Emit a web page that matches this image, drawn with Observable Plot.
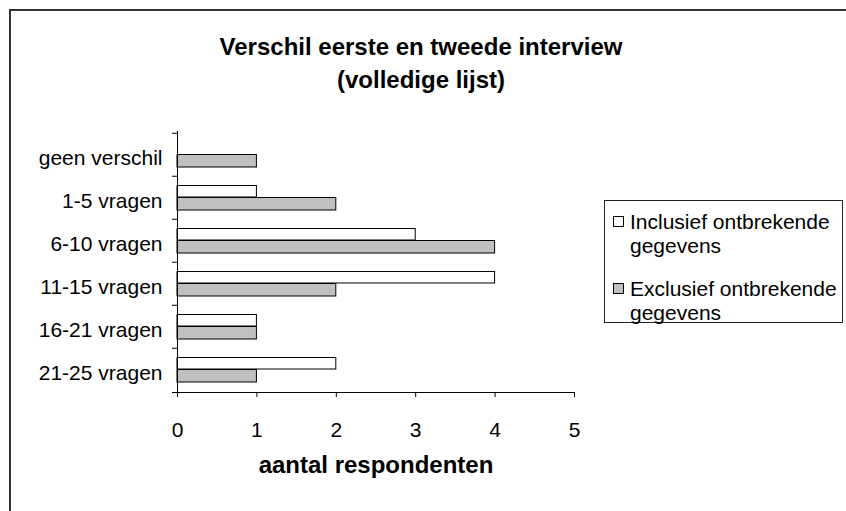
<!DOCTYPE html>
<html><head><meta charset="utf-8">
<script src="https://cdn.jsdelivr.net/npm/d3@7"></script>
<script src="https://cdn.jsdelivr.net/npm/@observablehq/plot@0.6"></script>
<style>
body{margin:0;background:#fff;overflow:hidden}
#wrap{position:relative;width:846px;height:511px;overflow:hidden;font-family:"Liberation Sans",Arial,sans-serif;background:#fff;color:#000}
#border{position:absolute;left:9px;top:9px;width:900px;height:600px;border:2px solid #333;box-sizing:border-box}
#wrap svg{position:absolute;left:0;top:0}
.title{position:absolute;left:0;width:842px;text-align:center;font-weight:bold;font-size:24px;line-height:24px;white-space:nowrap}
#legend{position:absolute;left:604px;top:200px;width:239px;height:123px;border:1px solid #222;box-sizing:border-box;background:#fff}
.sw{position:absolute;width:11px;height:11px;border:1px solid #000;box-sizing:border-box}
.lt{position:absolute;font-size:21px;line-height:24px;white-space:nowrap}
</style></head>
<body>
<div id="wrap"><div id="border"></div></div>
<script>
const categories = ["geen verschil","1-5 vragen","6-10 vragen","11-15 vragen","16-21 vragen","21-25 vragen"];
const inclusief = [0,1,3,4,1,2];
const exclusief = [1,2,4,2,1,1];
const seriesNames = ["Inclusief ontbrekende gegevens","Exclusief ontbrekende gegevens"];
const seriesLines = [["Inclusief ontbrekende","gegevens"],["Exclusief ontbrekende","gegevens"]];
const seriesColors = ["#ffffff","#c0c0c0"];
const xTicks = [0,1,2,3,4,5];
const xLabel = "aantal respondenten";
const titleLines = ["Verschil eerste en tweede interview","(volledige lijst)"];

const data = categories.flatMap((c,i)=>[
  {cat:c, series:seriesNames[0], value:inclusief[i]},
  {cat:c, series:seriesNames[1], value:exclusief[i]}
]);

const W=846,H=511, mTop=131, mBottom=119, mLeft=177, mRight=272;
const band=(H-mTop-mBottom)/categories.length;

const chart = Plot.plot({
  width:W, height:H,
  marginLeft:mLeft, marginRight:mRight, marginTop:mTop, marginBottom:mBottom,
  style:{fontFamily:'"Liberation Sans", Arial, sans-serif', fontSize:"21px", color:"#000", background:"transparent", overflow:"visible"},
  x:{domain:[0,5], axis:null},
  y:{domain:categories, padding:0, axis:null},
  color:{domain:seriesNames, range:seriesColors},
  marks:[
    Plot.barX(data.filter(d=>d.series===seriesNames[0]), {x:"value", y:"cat", fill:"series", stroke:"#000", strokeWidth:1, insetTop:9.5, insetBottom:band-21.5}),
    Plot.barX(data.filter(d=>d.series===seriesNames[1]), {x:"value", y:"cat", fill:"series", stroke:"#000", strokeWidth:1, insetTop:21.5, insetBottom:band-34.5}),
    Plot.ruleX([0], {stroke:"#000"}),
    Plot.frame({anchor:"bottom", insetLeft:-5, stroke:"#000"}),
    Plot.axisY({label:null, tickSize:0, tickPadding:15, dy:3, fontSize:21, fill:"#000"}),
    Plot.axisY({label:null, tickSize:5, tickFormat:()=>"", dy:-band/2, stroke:"#000"}),
    Plot.axisX({label:null, ticks:xTicks, tickFormat:d=>String(d), tickSize:5, tickPadding:25, fontSize:21, fill:"#000", stroke:"#000"}),
    Plot.text([xLabel], {frameAnchor:"bottom", dy:80, fontWeight:"bold", fontSize:24, fill:"#000"})
  ]
});
const wrap=document.getElementById("wrap");
wrap.appendChild(chart);

const titleTops=[35,68];
titleLines.forEach((t,i)=>{
  const d=document.createElement("div");
  d.className="title"; d.style.top=titleTops[i]+"px"; d.textContent=t;
  wrap.appendChild(d);
});

const lg=document.createElement("div"); lg.id="legend"; wrap.appendChild(lg);
const entryTops=[9,76];
seriesNames.forEach((s,i)=>{
  const sw=document.createElement("div"); sw.className="sw";
  sw.style.left="8px"; sw.style.top=(entryTops[i]+6)+"px"; sw.style.background=seriesColors[i];
  lg.appendChild(sw);
  seriesLines[i].forEach((ln,j)=>{
    const t=document.createElement("div"); t.className="lt";
    t.style.left="25px"; t.style.top=(entryTops[i]+j*24)+"px"; t.textContent=ln;
    lg.appendChild(t);
  });
});
</script>
</body></html>
